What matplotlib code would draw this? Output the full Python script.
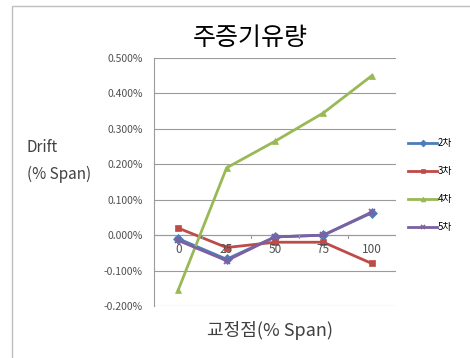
import matplotlib
matplotlib.use("Agg")
import matplotlib.pyplot as plt
from matplotlib.patches import Rectangle
from matplotlib.ticker import FuncFormatter, FixedLocator

plt.rcParams['font.family'] = ['Noto Sans CJK KR', 'DejaVu Sans']

# calibration points (% span) and drift per run (% span)
points = ["0", "25", "50", "75", "100"]
series_names = ["2차", "3차", "4차", "5차"]
drift_2 = [-0.010, -0.068, -0.005, 0.000, 0.063]
drift_3 = [0.020, -0.035, -0.020, -0.020, -0.080]
drift_4 = [-0.155, 0.190, 0.265, 0.345, 0.450]
drift_5 = [-0.015, -0.072, -0.005, 0.000, 0.065]

colors = ["#4A7EBB", "#BE4B48", "#98B954", "#7D60A0"]
markers = ["D", "s", "^", "x"]

fig = plt.figure(figsize=(4.7, 3.58), dpi=100)

# chart area frame
fig.patches.append(Rectangle((12 / 470, -0.1), 1.2, 1 - 6 / 358 + 0.1,
                             transform=fig.transFigure, fill=False,
                             edgecolor="#BFBFBF", linewidth=1.0))

ax = fig.add_axes([154 / 470, 1 - 306 / 358, 242 / 470, 248 / 358])

x = list(range(len(points)))
for name, vals, c, m in zip(series_names, [drift_2, drift_3, drift_4, drift_5],
                            colors, markers):
    ax.plot(x, vals, color=c, marker=m, markersize=5, linewidth=2.0,
            markeredgewidth=1.2 if m == "x" else 0.5, label=name)

ax.set_xlim(-0.5, len(points) - 0.5)
ax.set_ylim(-0.2, 0.5)
ax.yaxis.set_major_locator(FixedLocator([-0.2, -0.1, 0, 0.1, 0.2, 0.3, 0.4, 0.5]))
ax.yaxis.set_major_formatter(FuncFormatter(lambda v, p: f"{v:.3f}%"))
ax.grid(axis="y", color="#9A9A9A", linewidth=0.8)
ax.set_axisbelow(True)

for s in ["top", "right", "bottom"]:
    ax.spines[s].set_visible(False)
ax.spines["left"].set_color("#9A9A9A")
ax.axhline(0, color="#9A9A9A", linewidth=0.8, zorder=1)

# category axis crosses at zero: labels sit just below that line
ax.set_xticks([])
for i, lab in enumerate(points):
    ax.text(i, -0.022, lab, ha="center", va="top", fontsize=8.5, color="#505050")
for b in [0.5, 1.5, 2.5, 3.5]:
    ax.plot([b, b], [0, -0.008], color="#9A9A9A", linewidth=0.8)

ax.tick_params(axis="y", length=0, labelsize=7.5, labelcolor="#505050", pad=8)

fig.text(250 / 470, 1 - 38 / 358, "주증기유량", ha="center", va="center", fontsize=18)
fig.text(27 / 470, 1 - 148 / 358, "Drift", ha="left", va="center",
         fontsize=11, color="#404040")
fig.text(27 / 470, 1 - 174 / 358, "(% Span)", ha="left", va="center",
         fontsize=11, color="#404040")
fig.text(270 / 470, 1 - 330 / 358, "교정점(% Span)", ha="center", va="center",
         fontsize=13, color="#404040")

leg = ax.legend(loc="center left", bbox_to_anchor=(408 / 470, 1 - 185 / 358),
                bbox_transform=fig.transFigure, frameon=False, fontsize=7,
                handlelength=3.0, handletextpad=0.1, labelspacing=1.85,
                markerscale=0.7, borderpad=0, borderaxespad=0)

fig.savefig("out.png", dpi=100)
